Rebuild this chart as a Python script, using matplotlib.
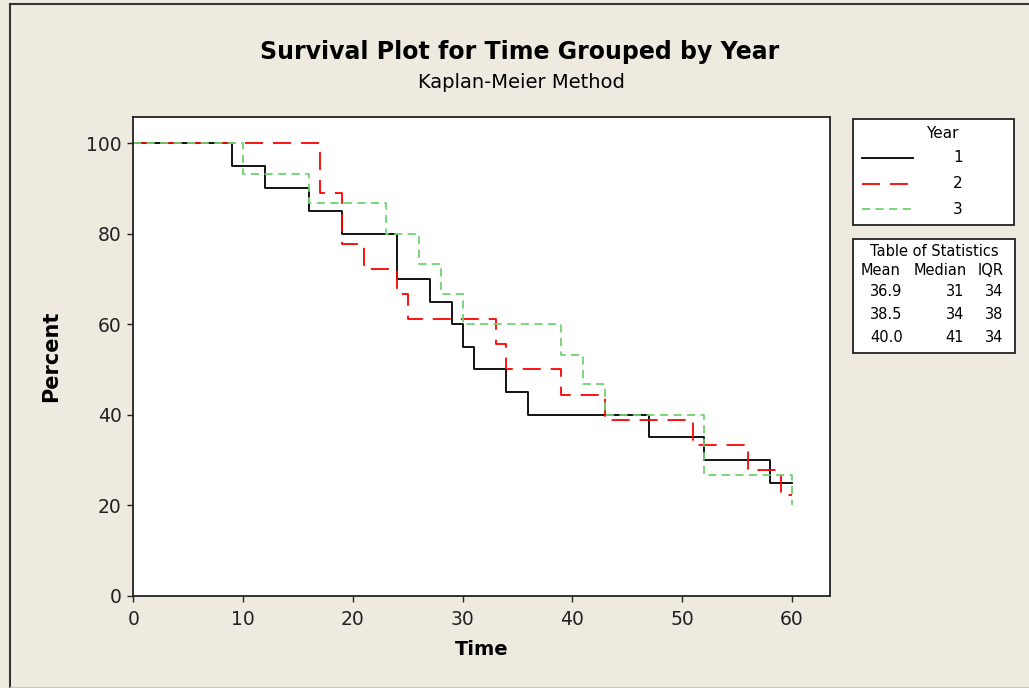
import matplotlib
matplotlib.use("Agg")
import matplotlib.pyplot as plt
from matplotlib.patches import Rectangle
from matplotlib.lines import Line2D

# Kaplan-Meier steps
t1 = [0, 9, 12, 16, 19, 24, 27, 29, 30, 31, 34, 36, 47, 52, 58, 60]
s1 = [100, 95, 90, 85, 80, 70, 65, 60, 55, 50, 45, 40, 35, 30, 25, 25]
t2 = [0, 17, 19, 21, 24, 25, 33, 34, 39, 43, 51, 56, 59, 60]
s2 = [100, 88.9, 77.8, 72.2, 66.7, 61.1, 55.6, 50, 44.4, 38.9, 33.3, 27.8, 22.2, 22.2]
t3 = [0, 10, 16, 23, 26, 28, 30, 39, 41, 43, 52, 60]
s3 = [100, 93.3, 86.7, 80, 73.3, 66.7, 60, 53.3, 46.7, 40, 26.7, 20]

years = ["1", "2", "3"]
mean_t = ["36.9", "38.5", "40.0"]
median_t = ["31", "34", "41"]
iqr_t = ["34", "38", "34"]

bg = "#EEEAE0"
W, H = 1029, 688
fig = plt.figure(figsize=(W / 100, H / 100), dpi=100, facecolor=bg)

def fx(px):
    return px / W

def fy(py):
    return 1 - py / H

# outer frame
fig.add_artist(Line2D([fx(10), fx(10)], [fy(4), fy(687)], color="#333333", lw=1.5))
fig.add_artist(Line2D([fx(10), 1], [fy(4), fy(4)], color="#333333", lw=1.5))
fig.add_artist(Line2D([fx(10), 1], [fy(687), fy(687)], color="#C8C8C8", lw=1))

ax = fig.add_axes([fx(133.3), fy(595.7), fx(830.3 - 133.3), (595.7 - 117) / H])
ax.set_facecolor("white")

styles = [
    dict(color="black", lw=1.3, ls="-"),
    dict(color="red", lw=1.3, ls=(0, (10, 5.5))),
    dict(color="#6FD36F", lw=1.3, ls=(0, (4.5, 3))),
]
for (tt, ss), st in zip([(t1, s1), (t2, s2), (t3, s3)], styles):
    ax.step(tt, ss, where="post", **st)

ax.set_xlim(0, 63.5)
ax.set_ylim(0, 105.8)
ax.set_xticks([0, 10, 20, 30, 40, 50, 60])
ax.set_yticks([0, 20, 40, 60, 80, 100])
ax.tick_params(direction="out", length=4.5, width=1, labelsize=13.5, pad=4, colors="#222222")
ax.tick_params(axis="x", pad=6)
for sp in ax.spines.values():
    sp.set_linewidth(1.3)
    sp.set_color("#222222")

ax.set_xlabel("Time", fontsize=14, fontweight="bold", labelpad=8)
ax.set_ylabel("Percent", fontsize=15, fontweight="bold", labelpad=18)

fig.text(fx(520), fy(52), "Survival Plot for Time Grouped by Year", ha="center", va="center",
         fontsize=17, fontweight="bold")
fig.text(fx(521), fy(82), "Kaplan-Meier Method", ha="center", va="center", fontsize=14)

# legend box
fig.add_artist(Rectangle((fx(853.3), fy(225)), fx(1014 - 853.3), (225 - 119) / H,
                         transform=fig.transFigure, facecolor="white", edgecolor="#222222", lw=1.3))
fig.text(fx(942), fy(133), "Year", ha="center", va="center", fontsize=11)
for i, (yr, st) in enumerate(zip(years, styles)):
    yy = fy(158 + i * 25.5)
    fig.add_artist(Line2D([fx(862), fx(913)], [yy, yy], transform=fig.transFigure, **st))
    fig.text(fx(958), yy, yr, ha="center", va="center", fontsize=11)

# statistics table
fig.add_artist(Rectangle((fx(853.3), fy(352.7)), fx(1015 - 853.3), (352.7 - 239) / H,
                         transform=fig.transFigure, facecolor="white", edgecolor="#222222", lw=1.3))
fig.text(fx(934), fy(251), "Table of Statistics", ha="center", va="center", fontsize=10.5)
fig.text(fx(861), fy(271), "Mean", ha="left", va="center", fontsize=10.5)
fig.text(fx(967), fy(271), "Median", ha="right", va="center", fontsize=10.5)
fig.text(fx(1004), fy(271), "IQR", ha="right", va="center", fontsize=10.5)
for i in range(3):
    yy = fy(292 + i * 22.5)
    fig.text(fx(870), yy, mean_t[i], ha="left", va="center", fontsize=10.5)
    fig.text(fx(964), yy, median_t[i], ha="right", va="center", fontsize=10.5)
    fig.text(fx(1003), yy, iqr_t[i], ha="right", va="center", fontsize=10.5)

fig.savefig("out.png", dpi=100, facecolor=bg)
